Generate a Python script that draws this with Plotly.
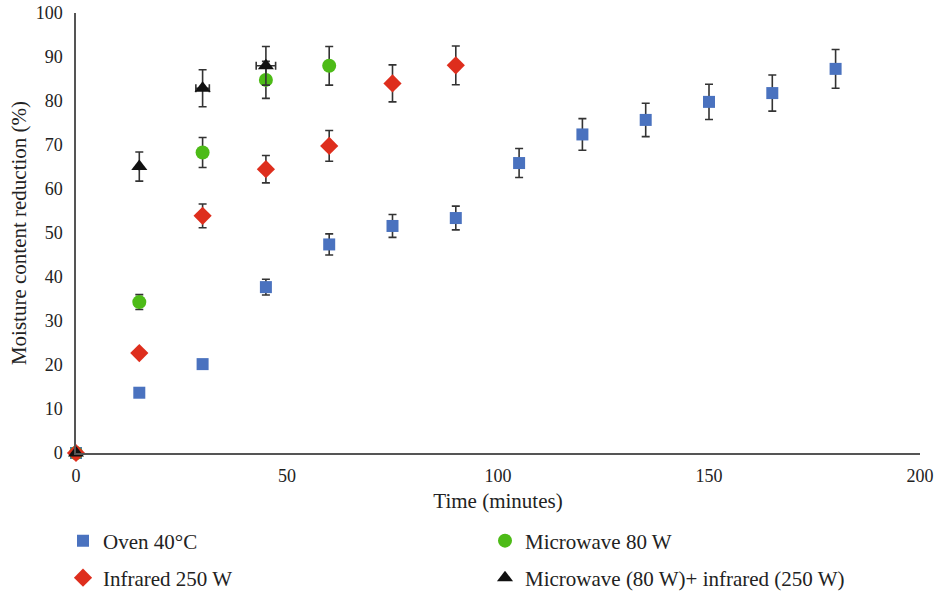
import plotly.graph_objects as go

time_oven = [0, 15, 30, 45, 60, 75, 90, 105, 120, 135, 150, 165, 180]
oven = [0, 13.7, 20.2, 37.7, 47.4, 51.6, 53.4, 65.9, 72.4, 75.7, 79.8, 81.8, 87.3]
oven_err = [0, 0, 0, 1.8, 2.4, 2.6, 2.7, 3.3, 3.6, 3.8, 4.0, 4.1, 4.4]

time_mw = [0, 15, 30, 45, 60]
mw = [0, 34.3, 68.3, 84.8, 88.0]
mw_err = [0, 1.7, 3.4, 4.2, 4.4]

time_ir = [0, 15, 30, 45, 60, 75, 90]
ir = [0, 22.7, 53.9, 64.5, 69.8, 84.0, 88.1]
ir_err = [0, 0.6, 2.7, 3.1, 3.5, 4.2, 4.4]

time_comb = [0, 15, 30, 45]
comb = [0, 65.1, 82.9, 88.0]
comb_err = [0, 3.3, 4.2, 4.4]
comb_xerr = [0, 0, 1.6, 2.3]

FONT = "Liberation Serif"
ERRC = "#333333"
W, H = 936, 595

def ebar(arr):
    return dict(type="data", array=arr, visible=True, color=ERRC, thickness=1.6, width=4)

fig = go.Figure()
fig.add_trace(go.Scatter(x=time_oven, y=oven, mode="markers", name="Oven 40°C",
                         marker=dict(symbol="square", size=12, color="#4A72BF"),
                         error_y=ebar(oven_err), cliponaxis=False, legend="legend"))
fig.add_trace(go.Scatter(x=time_mw, y=mw, mode="markers", name="Microwave 80 W",
                         marker=dict(symbol="circle", size=14, color="#4DBB17"),
                         error_y=ebar(mw_err), cliponaxis=False, legend="legend2"))
fig.add_trace(go.Scatter(x=time_ir, y=ir, mode="markers", name="Infrared 250 W",
                         marker=dict(symbol="diamond", size=14, color="#DE2E1D"),
                         error_y=ebar(ir_err), cliponaxis=False, legend="legend3"))
fig.add_trace(go.Scatter(x=time_comb, y=comb, mode="markers", name="Microwave (80 W)+ infrared (250 W)",
                         marker=dict(symbol="triangle-up", size=14, color="#111111"),
                         error_y=ebar(comb_err), error_x=ebar(comb_xerr),
                         cliponaxis=False, legend="legend4"))

def leg(xpx, ypx):
    return dict(orientation="h", xref="container", x=xpx / W, xanchor="left",
                yref="container", y=1 - ypx / H, yanchor="middle", itemwidth=30,
                font=dict(family=FONT, size=21, color="#222"), bgcolor="rgba(0,0,0,0)")

fig.update_layout(
    width=W, height=H,
    margin=dict(l=76, r=16, t=13, b=142, autoexpand=False),
    plot_bgcolor="white", paper_bgcolor="white",
    font=dict(family=FONT, size=18, color="#222"),
    showlegend=True,
    legend=leg(63, 541),
    legend2=leg(485, 541),
    legend3=leg(63, 578),
    legend4=leg(485, 578),
    xaxis=dict(range=[0, 200], tickvals=[0, 50, 100, 150, 200], showgrid=False, zeroline=False,
               showline=True, linecolor="#555", linewidth=1.5, ticks="", ticklabelstandoff=6,
               title=dict(text="Time (minutes)", font=dict(family=FONT, size=21), standoff=8)),
    yaxis=dict(range=[0, 100], tickvals=list(range(0, 101, 10)), showgrid=False, zeroline=False,
               showline=True, linecolor="#555", linewidth=1.5, ticks="", ticklabelstandoff=8,
               title=dict(text="Moisture content reduction (%)", font=dict(family=FONT, size=21), standoff=3)),
)

fig.write_html("out.html")
